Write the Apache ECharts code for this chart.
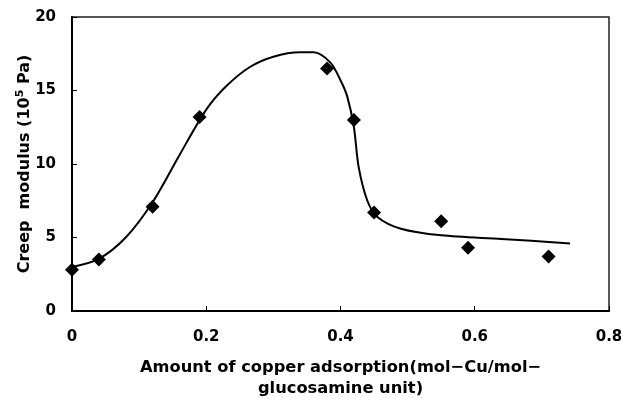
<!DOCTYPE html>
<html style="height: 100%">
<head>
    <meta charset="utf-8">
    <script type="text/javascript" src="https://cdn.jsdelivr.net/npm/echarts@6/dist/echarts.min.js"></script>
</head>
<body style="height: 100%; margin: 0; background: #fff">
<div id="container" style="width: 621px; height: 398px"></div>
<script type="text/javascript">
    // measured points (copper adsorption, creep modulus 10^5 Pa)
    var pointX = [0, 0.04, 0.12, 0.19, 0.38, 0.42, 0.45, 0.55, 0.59, 0.71];
    var pointY = [2.8, 3.5, 7.1, 13.2, 16.5, 13.0, 6.7, 6.1, 4.3, 3.7];

    // fitted curve
    var curveX = [0, 0.04, 0.08, 0.12, 0.16, 0.2, 0.23, 0.265, 0.30, 0.34, 0.36, 0.385, 0.40, 0.41, 0.42, 0.427, 0.44, 0.455, 0.49, 0.55, 0.64, 0.742];
    var curveY = [3.0, 3.55, 5.0, 7.4, 10.6, 13.7, 15.3, 16.6, 17.3, 17.6, 17.6, 16.9, 15.7, 14.6, 12.5, 9.8, 7.5, 6.4, 5.6, 5.15, 4.9, 4.6];

    var xTicks = [0, 0.2, 0.4, 0.6, 0.8];
    var yTicks = [0, 5, 10, 15, 20];

    var font = '"DejaVu Sans", sans-serif';

    var myChart = echarts.init(document.getElementById('container'));

    var option = {
        animation: false,
        grid: {
            left: 72, right: 12, top: 17, bottom: 87,
            outerBoundsMode: 'none',
            show: true, borderColor: '#222', borderWidth: 1.5
        },
        xAxis: {
            type: 'value', min: 0, max: 0.8, interval: 0.2,
            axisLine: {show: true, lineStyle: {color: '#000', width: 2}},
            axisTick: {show: true, inside: true, length: 5, lineStyle: {color: '#000'}},
            splitLine: {show: false},
            axisLabel: {
                color: '#000', fontSize: 15, fontWeight: 'bold', fontFamily: font, margin: 19,
                formatter: function (v) { return xTicks.indexOf(+v.toFixed(1)) >= 0 ? String(+v.toFixed(1)) : ''; }
            },
            name: 'Amount of copper adsorption(mol\u2212Cu/mol\u2212\nglucosamine unit)',
            nameLocation: 'middle', nameGap: 46, nameMoveOverlap: false,
            nameTextStyle: {color: '#000', fontSize: 16.3, fontFamily: font, lineHeight: 21, fontWeight: 'bold'}
        },
        yAxis: {
            type: 'value', min: 0, max: 20, interval: 5,
            axisLine: {show: true, lineStyle: {color: '#000', width: 2}},
            axisTick: {show: true, inside: true, length: 5, lineStyle: {color: '#000'}},
            splitLine: {show: false},
            axisLabel: {
                color: '#000', fontSize: 15, fontWeight: 'bold', fontFamily: font, margin: 16,
                formatter: function (v) { return yTicks.indexOf(v) >= 0 ? String(v) : ''; }
            },
            name: '{t|Creep  modulus (10}{s|5}{t| Pa)}',
            nameLocation: 'middle', nameGap: 38, nameMoveOverlap: false,
            nameTextStyle: {
                rich: {
                    t: {color: '#000', fontSize: 16, fontFamily: font, fontWeight: 'bold'},
                    s: {color: '#000', fontSize: 11, fontFamily: font, fontWeight: 'bold', verticalAlign: 'top', padding: [0, 0, 8, 0]}
                }
            }
        },
        series: [
            {
                type: 'line',
                data: curveX.map(function (x, i) { return [x, curveY[i]]; }),
                smooth: 0.3,
                showSymbol: false,
                lineStyle: {color: '#000', width: 2}
            },
            {
                type: 'scatter',
                data: pointX.map(function (x, i) { return [x, pointY[i]]; }),
                symbol: 'diamond',
                symbolSize: 14,
                itemStyle: {color: '#000', opacity: 1}
            }
        ]
    };
    myChart.setOption(option);
</script>
</body>
</html>
